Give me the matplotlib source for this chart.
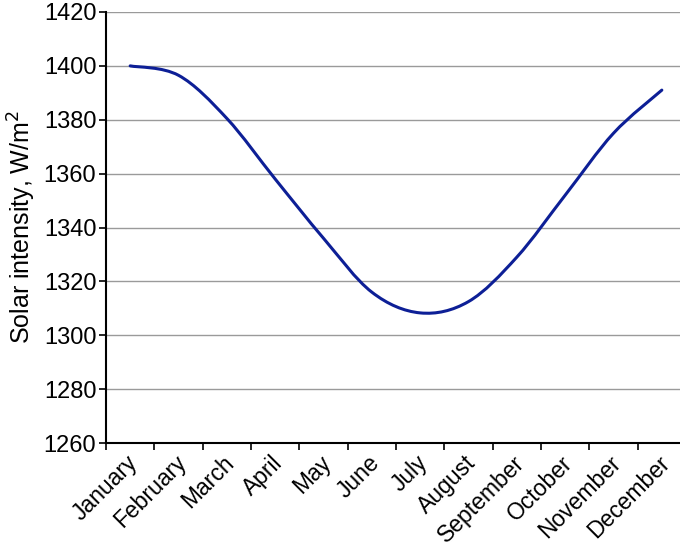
import matplotlib
matplotlib.use("Agg")
import matplotlib.pyplot as plt
import matplotlib.transforms as mtransforms
import numpy as np
from matplotlib.path import Path
from matplotlib.patches import PathPatch

months = ["January", "February", "March", "April", "May", "June", "July",
          "August", "September", "October", "November", "December"]
intensity = [1400, 1396.5, 1380.5, 1358, 1336, 1316, 1308.3, 1312.5,
             1329, 1352, 1375, 1391]
y_ticks = [1260, 1280, 1300, 1320, 1340, 1360, 1380, 1400, 1420]

plt.rcParams['font.family'] = ['Liberation Sans', 'DejaVu Sans']

fig = plt.figure(figsize=(6.8, 5.45), dpi=100)
ax = fig.add_axes([106/680, 102/545, 580/680, 431/545])

x = np.arange(len(months), dtype=float)
y = np.array(intensity, dtype=float)

# Smoothed line (Catmull-Rom converted to cubic Bezier segments)
verts = [(x[0], y[0])]
codes = [Path.MOVETO]
n = len(x)
for i in range(n - 1):
    p0 = (x[i-1], y[i-1]) if i > 0 else (x[i], y[i])
    p1 = (x[i], y[i])
    p2 = (x[i+1], y[i+1])
    p3 = (x[i+2], y[i+2]) if i + 2 < n else (x[i+1], y[i+1])
    c1 = (p1[0] + (p2[0] - p0[0]) / 6, p1[1] + (p2[1] - p0[1]) / 6)
    c2 = (p2[0] - (p3[0] - p1[0]) / 6, p2[1] - (p3[1] - p1[1]) / 6)
    verts += [c1, c2, p2]
    codes += [Path.CURVE4] * 3
path = Path(verts, codes)
ax.add_patch(PathPatch(path, facecolor='none', edgecolor='#0d1f96',
                       linewidth=2.2, capstyle='round', joinstyle='round',
                       zorder=3))

ax.set_xlim(-0.5, len(months) - 0.5)
ax.set_ylim(y_ticks[0], y_ticks[-1])
ax.set_yticks(y_ticks)
ax.set_yticklabels([str(t) for t in y_ticks], fontsize=17)
ax.yaxis.grid(True, color='#9a9a9a', linewidth=1.0)
ax.set_axisbelow(True)

ax.set_xticks(np.arange(len(months) + 1) - 0.5)
ax.set_xticklabels([])
ax.set_xticks(x, minor=True)
ax.set_xticklabels(months, minor=True, rotation=45, ha='right',
                   rotation_mode='anchor', fontsize=16.5)
ax.tick_params(axis='x', which='minor', length=0, pad=6)
ax.tick_params(axis='x', which='major', length=5, width=1.2, direction='out')
ax.tick_params(axis='y', length=5, width=1.2, direction='out', pad=2)

offset = mtransforms.ScaledTranslation(-4 / 100, 0, fig.dpi_scale_trans)
for lab in ax.get_xticklabels(minor=True):
    lab.set_transform(lab.get_transform() + offset)

for s in ['top', 'right']:
    ax.spines[s].set_visible(False)
for s in ['left', 'bottom']:
    ax.spines[s].set_linewidth(1.5)
    ax.spines[s].set_color('black')

ax.set_ylabel("Solar intensity, W/m$^{2}$", fontsize=18, labelpad=4)

fig.savefig("out.png", dpi=100)
